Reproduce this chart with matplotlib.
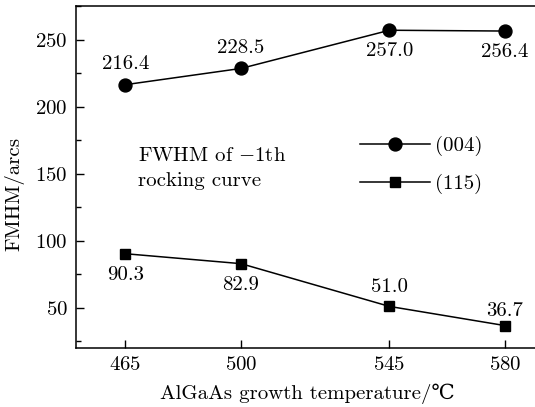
import numpy as np
import matplotlib
matplotlib.use('Agg')
import matplotlib.pyplot as plt
from matplotlib.ticker import MultipleLocator

plt.rcParams['font.family'] = ['cmr10', 'DejaVu Serif']
plt.rcParams['mathtext.fontset'] = 'cm'
plt.rcParams['axes.formatter.use_mathtext'] = True
FS = 15

# data
temps = [465, 500, 545, 580]
fwhm_004 = [216.4, 228.5, 257.0, 256.4]
fwhm_115 = [90.3, 82.9, 51.0, 36.7]
lab_004 = ['216.4', '228.5', '257.0', '256.4']
lab_115 = ['90.3', '82.9', '51.0', '36.7']
# label above (+1) or below (-1) the point
pos_004 = [1, 1, -1, -1]
pos_115 = [-1, -1, 1, 1]

fig = plt.figure(figsize=(5.35, 4.07), dpi=100)
ax = fig.add_axes([0.142, 0.145, 0.8636, 0.840])

l1, = ax.plot(temps, fwhm_004, '-o', color='black', lw=1.1, ms=9.3, label='(004)')
l2, = ax.plot(temps, fwhm_115, '-s', color='black', lw=1.1, ms=7.7, label='(115)')

for x, y, t, p in zip(temps, fwhm_004, lab_004, pos_004):
    ax.annotate(t, (x, y), xytext=(0, 15 * p), textcoords='offset points',
                ha='center', va='center', fontsize=FS)
for x, y, t, p in zip(temps, fwhm_115, lab_115, pos_115):
    off = 15.5 if p < 0 else 14
    if t == '36.7':
        off = 10.5
    ax.annotate(t, (x, y), xytext=(0, off * p), textcoords='offset points',
                ha='center', va='center', fontsize=FS)

ax.text(0.135, 0.525, 'FWHM of $-$1th\nrocking curve', transform=ax.transAxes,
        fontsize=FS, ha='left', va='center', linespacing=1.55)

ax.legend(handles=[l1, l2], frameon=False, loc='center left',
          bbox_to_anchor=(0.575, 0.535), fontsize=FS, handlelength=3.35,
          handletextpad=0.25, labelspacing=0.85, numpoints=1)

ax.set_xlim(450, 590)
ax.set_ylim(20, 275)
ax.set_xticks(temps)
ax.yaxis.set_major_locator(MultipleLocator(50))
ax.yaxis.set_minor_locator(MultipleLocator(25))
ax.set_yticks([50, 100, 150, 200, 250])
ax.tick_params(which='major', direction='in', length=5.8, width=1, labelsize=FS, pad=6)
ax.tick_params(which='minor', direction='in', length=3.6, width=1)
ax.tick_params(axis='x', top=False)
ax.spines['right'].set_visible(False)
for s in ['left', 'bottom', 'top']:
    ax.spines[s].set_linewidth(1.1)

ax.set_xlabel('AlGaAs growth temperature/\u2103', fontsize=FS, labelpad=7)
ax.set_ylabel('FMHM/arcs', fontsize=FS)
ax.yaxis.set_label_coords(-0.112, 0.45)

fig.savefig('out.png', dpi=100)
